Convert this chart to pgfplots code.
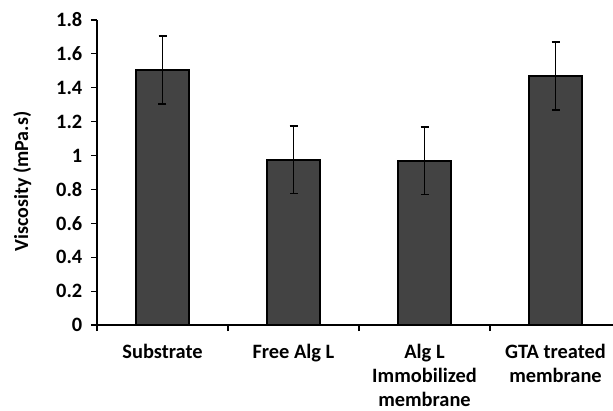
\documentclass[border=0pt]{standalone}
\usepackage{pgfplots}
\pgfplotsset{compat=1.18}
\usepackage{fontspec}
\setmainfont{Carlito}
\definecolor{barfill}{HTML}{434343}
\begin{document}
\begin{tikzpicture}
\path[use as bounding box] (-72.75pt,-63.75pt) rectangle (387pt,243.75pt);
\begin{axis}[
  at={(0pt,0pt)}, anchor=south west,
  scale only axis, width=393pt, height=228.75pt,
  xmin=-0.5, xmax=3.5, ymin=0, ymax=1.8,
  axis lines*=left,
  axis line style={line width=1pt, black},
  xtick={0,1,2,3},
  xticklabels={Substrate, Free Alg L, {Alg L\\Immobilized\\membrane}, {GTA treated\\membrane}},
  minor xtick={-0.5,0.5,1.5,2.5,3.5},
  major x tick style={draw=none},
  ytick={0,0.2,0.4,0.6,0.8,1,1.2,1.4,1.6,1.8},
  tick align=outside,
  major tick length=4.5pt, minor tick length=4.5pt,
  tick style={line width=0.9pt, black},
  /pgf/number format/assume math mode=true,
  x tick label style={font=\fontsize{15.3}{18}\selectfont\bfseries, align=center, anchor=north, yshift=-6pt},
  y tick label style={font=\fontsize{15.3}{17}\selectfont\bfseries, xshift=-3pt},
  ylabel={Viscosity (mPa.s)},
  ylabel style={font=\fontsize{15}{17}\selectfont\bfseries, at={(axis description cs:-0.1425,0.4705)}, anchor=center},
  ybar, bar width=39.75pt,
  clip=false,
]
\addplot[fill=barfill, draw=black, line width=1.3pt,
  error bars/.cd, y dir=both, y explicit,
  error bar style={line width=1.2pt, black},
  error mark options={rotate=90, mark size=3pt, line width=1.2pt, black}]
  coordinates {
  (0,1.505) +- (0,0.2)
  (1,0.975) +- (0,0.2)
  (2,0.97) +- (0,0.2)
  (3,1.47) +- (0,0.2)
};
\end{axis}
\end{tikzpicture}
\end{document}
